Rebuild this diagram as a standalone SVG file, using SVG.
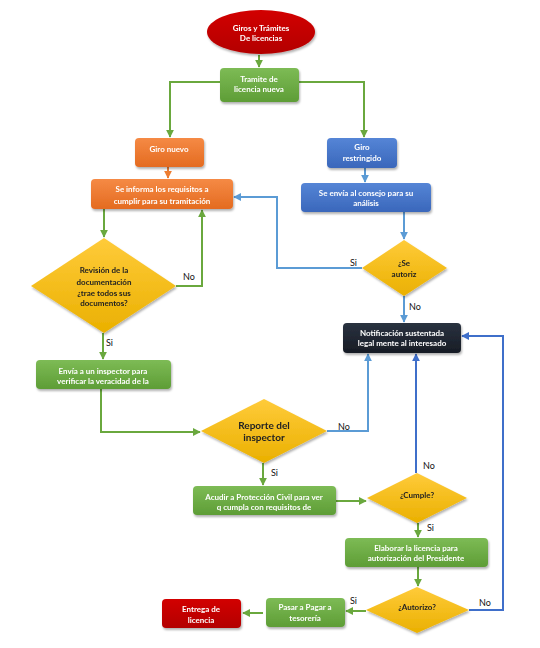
<svg xmlns="http://www.w3.org/2000/svg" width="540" height="648" viewBox="0 0 540 648">
<defs>
<linearGradient id="gG" x1="0" y1="0" x2="0" y2="1"><stop offset="0" stop-color="#7dbb55"/><stop offset="1" stop-color="#5e9d36"/></linearGradient>
<linearGradient id="gO" x1="0" y1="0" x2="0" y2="1"><stop offset="0" stop-color="#f58a45"/><stop offset="1" stop-color="#e46b20"/></linearGradient>
<linearGradient id="gB" x1="0" y1="0" x2="0" y2="1"><stop offset="0" stop-color="#5585d6"/><stop offset="1" stop-color="#3a67bb"/></linearGradient>
<linearGradient id="gR" x1="0" y1="0" x2="0" y2="1"><stop offset="0" stop-color="#d20000"/><stop offset="1" stop-color="#b30000"/></linearGradient>
<linearGradient id="gY" x1="0" y1="0" x2="0" y2="1"><stop offset="0" stop-color="#ffcb3a"/><stop offset="1" stop-color="#eab000"/></linearGradient>
<linearGradient id="gK" x1="0" y1="0" x2="0" y2="1"><stop offset="0" stop-color="#2a3240"/><stop offset="1" stop-color="#171c25"/></linearGradient>
<filter id="sh" x="-10%" y="-10%" width="130%" height="140%"><feDropShadow dx="1" dy="2" stdDeviation="1.2" flood-color="#000" flood-opacity="0.3"/></filter>
<marker id="aG" viewBox="0 0 10 10" refX="9" refY="5" markerWidth="4" markerHeight="4" orient="auto"><path d="M0,0 L10,5 L0,10 z" fill="#6aa83e"/></marker>
<marker id="aB" viewBox="0 0 10 10" refX="9" refY="5" markerWidth="4" markerHeight="4" orient="auto"><path d="M0,0 L10,5 L0,10 z" fill="#5b9bd5"/></marker>
<marker id="aD" viewBox="0 0 10 10" refX="9" refY="5" markerWidth="4" markerHeight="4" orient="auto"><path d="M0,0 L10,5 L0,10 z" fill="#3f6fca"/></marker>
<marker id="aO" viewBox="0 0 10 10" refX="9" refY="5" markerWidth="4" markerHeight="4" orient="auto"><path d="M0,0 L10,5 L0,10 z" fill="#ed7d31"/></marker>
</defs>
<style>
.t{font-family:Lato,"Liberation Sans",sans-serif;font-size:8px;font-weight:bold;fill:#fff;text-anchor:middle}
.d{font-family:Lato,"Liberation Sans",sans-serif;font-size:8px;font-weight:bold;fill:#222;text-anchor:middle}
.l{font-family:Lato,"Liberation Sans",sans-serif;font-size:9px;fill:#111}
.cg{fill:none;stroke:#6aa83e;stroke-width:2}
.cb{fill:none;stroke:#5b9bd5;stroke-width:2}
.cd{fill:none;stroke:#3f6fca;stroke-width:2}
.co{fill:none;stroke:#ed7d31;stroke-width:2}
</style>
<rect width="540" height="648" fill="#fff"/>
<g id="connectors">
<path class="cg" d="M259,55 V67" marker-end="url(#aG)"/>
<path class="cg" d="M220,82 H170 V137" marker-end="url(#aG)"/>
<path class="cg" d="M299,82 H364 V137" marker-end="url(#aG)"/>
<path class="co" d="M168,167 V178" marker-end="url(#aO)"/>
<path class="cb" d="M365,168 V182" marker-end="url(#aB)"/>
<path class="cg" d="M104,209 V237" marker-end="url(#aG)"/>
<path class="cg" d="M176,286 H202 V210" marker-end="url(#aG)"/>
<path class="cg" d="M103,333 V359" marker-end="url(#aG)"/>
<path class="cb" d="M404,212 V239" marker-end="url(#aB)"/>
<path class="cb" d="M362,268 H277 V197 H234" marker-end="url(#aB)"/>
<path class="cb" d="M404,296 V322" marker-end="url(#aB)"/>
<path class="cg" d="M101,389 V432 H200" marker-end="url(#aG)"/>
<path class="cb" d="M327,431 H368 V354" marker-end="url(#aB)"/>
<path class="cg" d="M263,463 V485" marker-end="url(#aG)"/>
<path class="cg" d="M336,501 H366" marker-end="url(#aG)"/>
<path class="cd" d="M416,473 V354" marker-end="url(#aD)"/>
<path class="cg" d="M418,523 V537" marker-end="url(#aG)"/>
<path class="cg" d="M418,567 V586" marker-end="url(#aG)"/>
<path class="cd" d="M469,610 H503 V336 H462" marker-end="url(#aD)"/>
<path class="cg" d="M366,611 H346" marker-end="url(#aG)"/>
<path class="cg" d="M263,613 H243" marker-end="url(#aG)"/>
</g>
<g id="labels">
<text class="l" x="183" y="280">No</text>
<text class="l" x="106" y="346">Si</text>
<text class="l" x="350" y="266">Si</text>
<text class="l" x="409" y="310">No</text>
<text class="l" x="338" y="430">No</text>
<text class="l" x="271" y="476">Si</text>
<text class="l" x="423" y="469">No</text>
<text class="l" x="427" y="531">Si</text>
<text class="l" x="479" y="606">No</text>
<text class="l" x="350" y="604">Si</text>
</g>
<g id="n-inicio" filter="url(#sh)"><ellipse cx="261" cy="32" rx="54" ry="22" fill="url(#gR)"/>
<text class="t" x="261" y="31">Giros y Trámites</text><text class="t" x="261" y="41">De licencias</text></g>
<g id="n-tramite" filter="url(#sh)"><rect x="220" y="68" width="79" height="34" rx="4" fill="url(#gG)"/>
<text class="t" x="259" y="82">Tramite de</text><text class="t" x="259" y="92">licencia nueva</text></g>
<g id="n-gironuevo" filter="url(#sh)"><rect x="135" y="138" width="69" height="29" rx="4" fill="url(#gO)"/>
<text class="t" x="169" y="152">Giro nuevo</text></g>
<g id="n-girorestr" filter="url(#sh)"><rect x="327" y="138" width="70" height="30" rx="4" fill="url(#gB)"/>
<text class="t" x="362" y="150">Giro</text><text class="t" x="362" y="161">restringido</text></g>
<g id="n-informa" filter="url(#sh)"><rect x="91" y="179" width="142" height="30" rx="4" fill="url(#gO)"/>
<text class="t" x="162" y="192">Se informa los requisitos a</text><text class="t" x="162" y="204">cumplir para su tramitación</text></g>
<g id="n-consejo" filter="url(#sh)"><rect x="301" y="183" width="130" height="29" rx="4" fill="url(#gB)"/>
<text class="t" x="366" y="196">Se envía al consejo para su</text><text class="t" x="366" y="206">análisis</text></g>
<g id="n-revision" filter="url(#sh)"><polygon points="104,238 176,286 104,333 31,286" fill="url(#gY)"/>
<text class="d" x="104" y="273">Revisión de la</text><text class="d" x="104" y="285">documentación</text><text class="d" x="104" y="296">¿trae todos sus</text><text class="d" x="104" y="306">documentos?</text></g>
<g id="n-seautoriz" filter="url(#sh)"><polygon points="404,240 447,268 404,296 362,268" fill="url(#gY)"/>
<text class="d" x="404" y="266">¿Se</text><text class="d" x="404" y="277">autoriz</text></g>
<g id="n-notif" filter="url(#sh)"><rect x="343" y="323" width="118" height="30" rx="4" fill="url(#gK)"/>
<text class="t" x="402" y="336">Notificación sustentada</text><text class="t" x="402" y="346">legal mente al interesado</text></g>
<g id="n-envia" filter="url(#sh)"><rect x="36" y="360" width="135" height="29" rx="4" fill="url(#gG)"/>
<text class="t" x="103" y="374">Envía a un inspector para</text><text class="t" x="103" y="384">verificar la veracidad de la</text></g>
<g id="n-reporte" filter="url(#sh)"><polygon points="264,399 327,431 264,463 201,431" fill="url(#gY)"/>
<text class="d" x="264" y="429" style="font-size:10px">Reporte del</text><text class="d" x="264" y="441" style="font-size:10px">inspector</text></g>
<g id="n-acudir" filter="url(#sh)"><rect x="193" y="486" width="143" height="29" rx="4" fill="url(#gG)"/>
<text class="t" x="264" y="500">Acudir a Protección Civil para ver</text><text class="t" x="264" y="510">q cumpla con requisitos de</text></g>
<g id="n-cumple" filter="url(#sh)"><polygon points="417,473 467,498 417,523 367,498" fill="url(#gY)"/>
<text class="d" x="417" y="498">¿Cumple?</text></g>
<g id="n-elaborar" filter="url(#sh)"><rect x="345" y="538" width="143" height="29" rx="4" fill="url(#gG)"/>
<text class="t" x="416" y="551">Elaborar la licencia para</text><text class="t" x="416" y="561">autorización del Presidente</text></g>
<g id="n-autorizo" filter="url(#sh)"><polygon points="417,587 469,610 417,633 366,610" fill="url(#gY)"/>
<text class="d" x="417" y="610">¿Autorizo?</text></g>
<g id="n-pasar" filter="url(#sh)"><rect x="266" y="598" width="79" height="29" rx="4" fill="url(#gG)"/>
<text class="t" x="305" y="610">Pasar a Pagar a</text><text class="t" x="305" y="621">tesorería</text></g>
<g id="n-entrega" filter="url(#sh)"><rect x="162" y="599" width="79" height="29" rx="4" fill="url(#gR)"/>
<text class="t" x="201" y="612">Entrega de</text><text class="t" x="201" y="623">licencia</text></g>
</svg>
